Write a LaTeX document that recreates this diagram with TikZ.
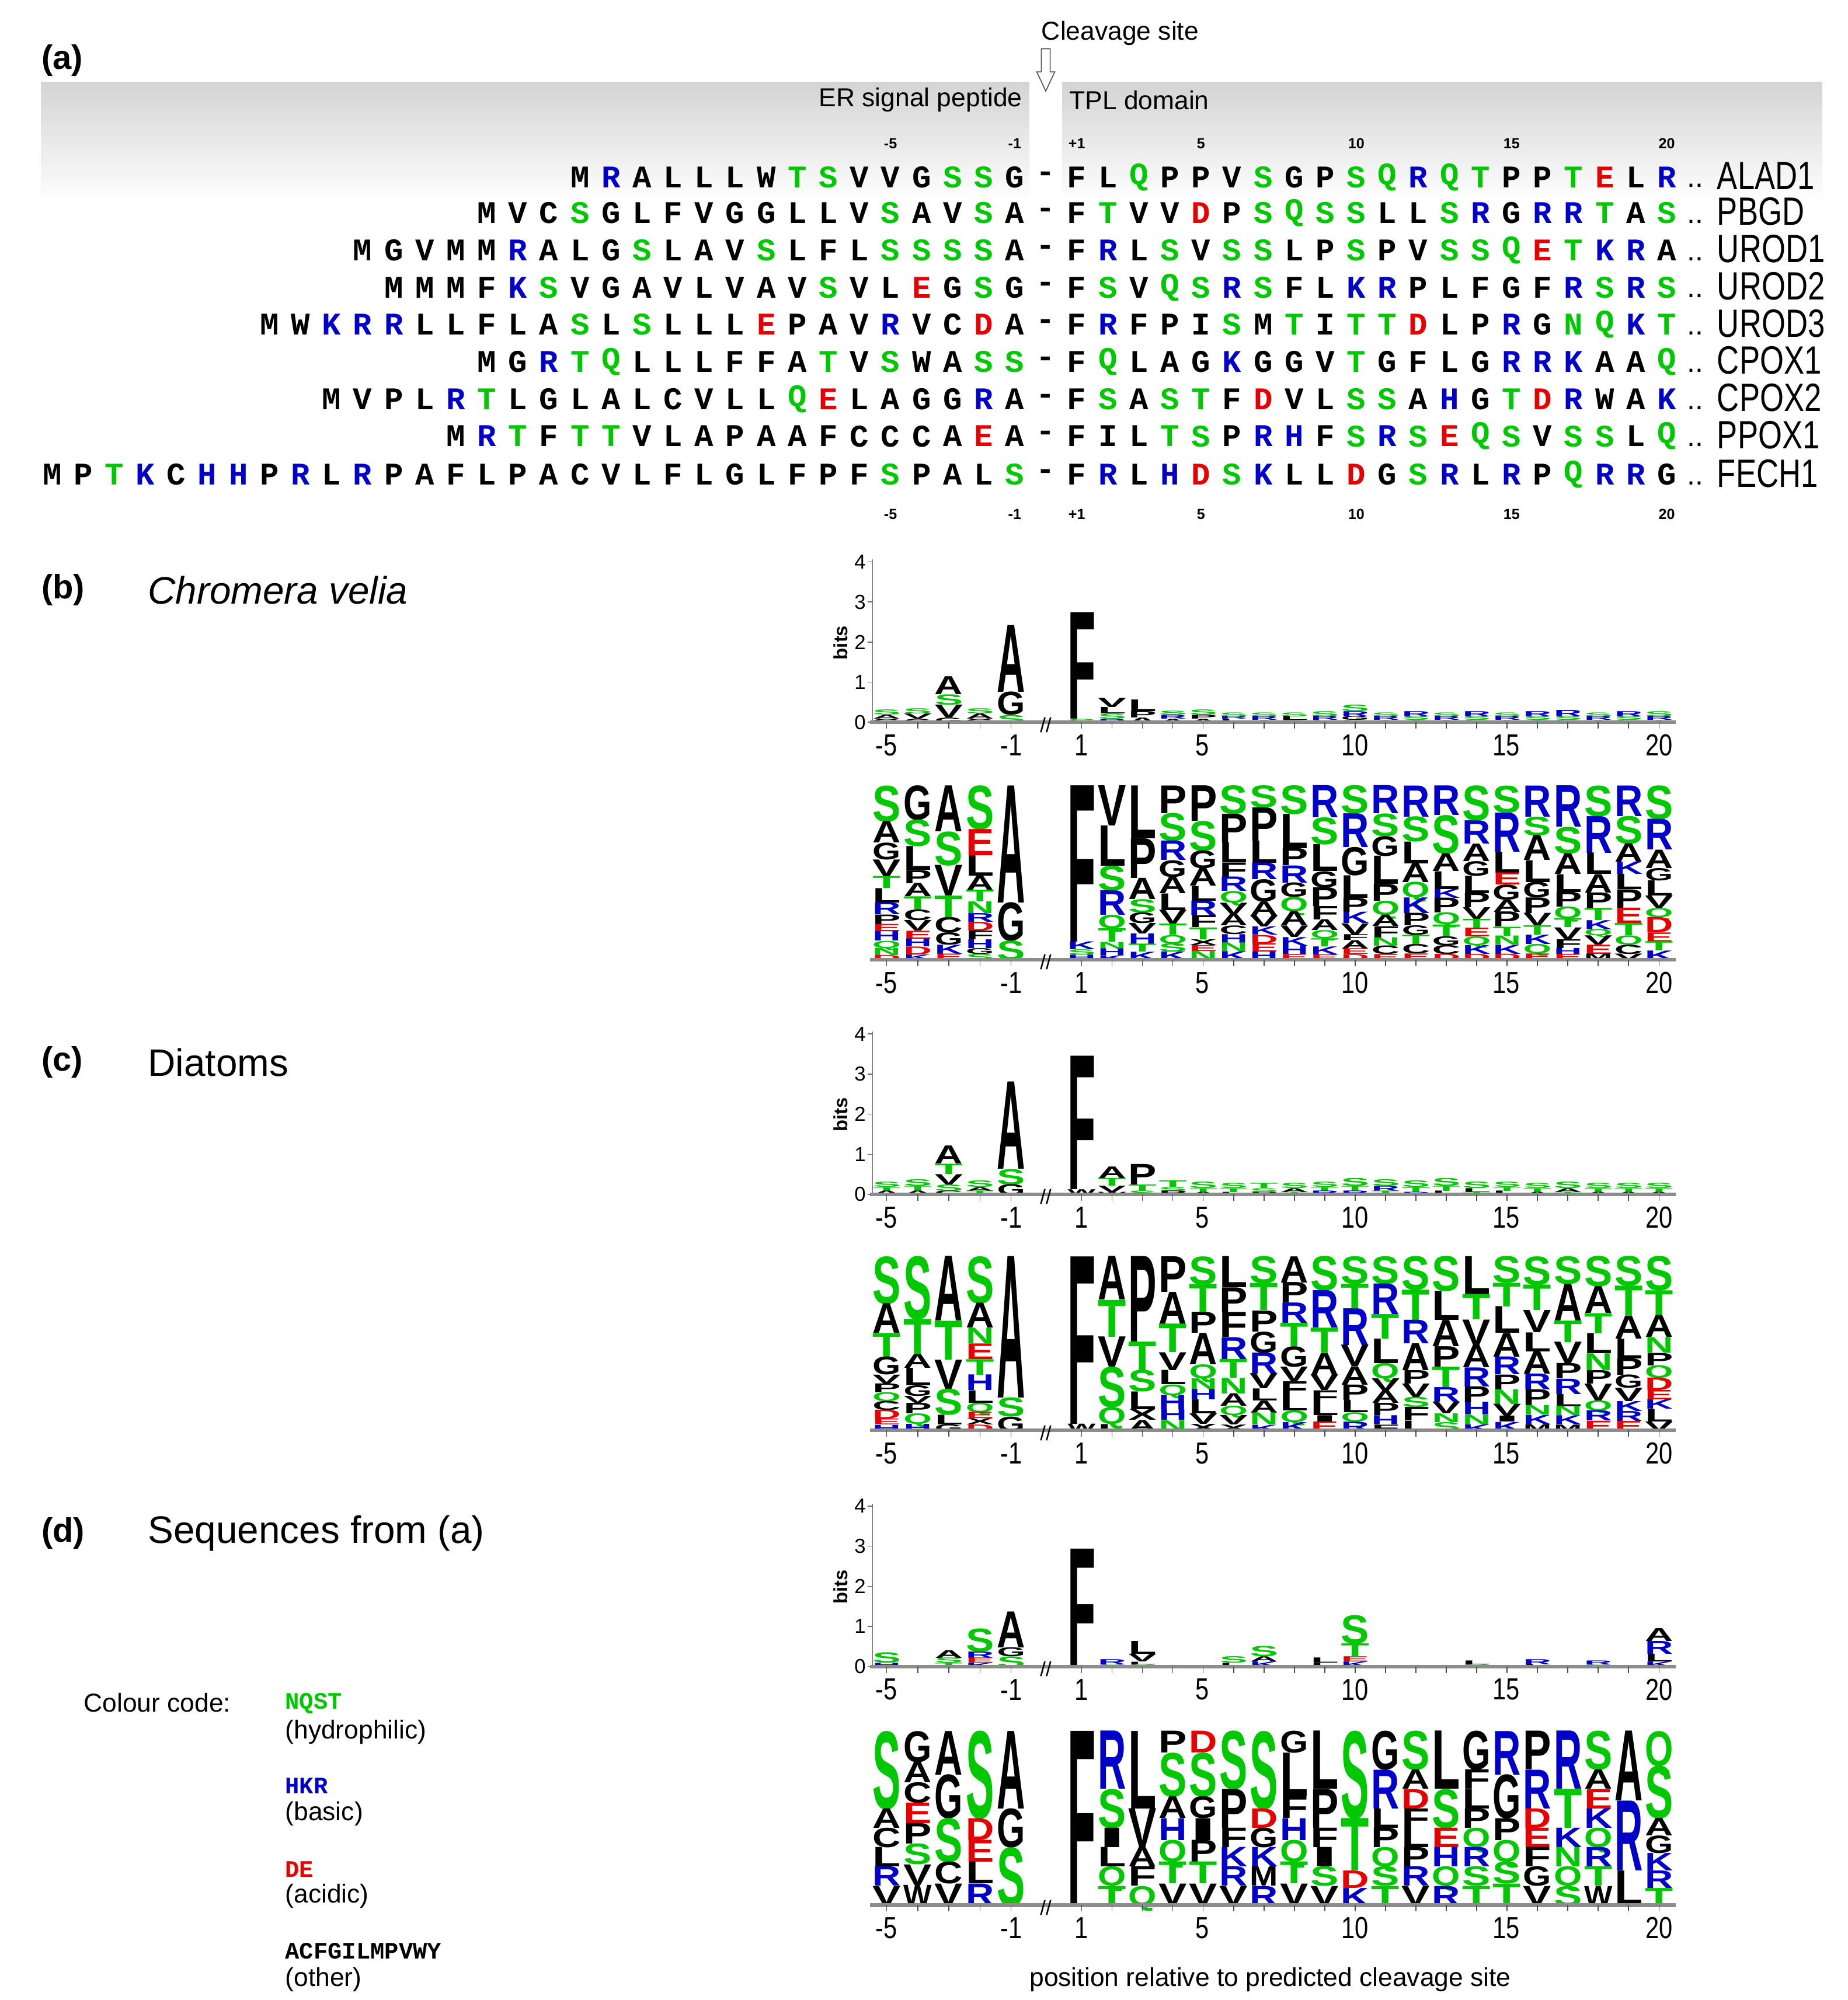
\documentclass[tikz,border=0pt]{standalone}
\usepackage{fontspec}
\setmainfont{Liberation Sans}
\newfontfamily\seqfont{Liberation Mono}
\newfontfamily\logofont{Liberation Sans}
\usetikzlibrary{calc}
\definecolor{hydro}{RGB}{0,200,0}
\definecolor{basic}{RGB}{0,0,200}
\definecolor{acidic}{RGB}{230,0,0}
\definecolor{other}{RGB}{0,0,0}
\tikzset{
	aa/N/.style={text=hydro},aa/Q/.style={text=hydro},aa/S/.style={text=hydro},aa/T/.style={text=hydro},%
	aa/H/.style={text=basic},aa/K/.style={text=basic},aa/R/.style={text=basic},%
	aa/D/.style={text=acidic},aa/E/.style={text=acidic},%
	aa/A/.style={text=other},aa/C/.style={text=other},aa/F/.style={text=other},aa/G/.style={text=other},%
	aa/I/.style={text=other},aa/L/.style={text=other},aa/M/.style={text=other},aa/P/.style={text=other},%
	aa/V/.style={text=other},aa/W/.style={text=other},aa/Y/.style={text=other},aa/X/.style={text=other},%
	seqletter/.style={font=\seqfont\bfseries\fontsize{14}{14}\selectfont,inner sep=0pt},%
	seqname/.style={font=\fontsize{17.5}{17.5}\selectfont,inner sep=0pt,anchor=west,xscale=0.78},%
	seqdots/.style={font=\fontsize{13}{13}\selectfont,inner sep=0pt,anchor=base},%
	posnum/.style={font=\bfseries\fontsize{6.5}{6.5}\selectfont,inner sep=0pt},%
	logoletter/.style={inner sep=0pt,anchor=north},%
	logoaxis/.style={black!45,line width=1.6pt},%
	logotick/.style={black!70,thin},%
	axisnum/.style={font=\fontsize{13.5}{13.5}\selectfont,inner sep=0pt,xscale=0.8},%
	bitsnum/.style={font=\fontsize{9}{9}\selectfont,inner sep=0pt,anchor=east},%
	panel/.style={font=\bfseries\fontsize{15}{15}\selectfont,inner sep=0pt,anchor=west},%
	title/.style={font=\fontsize{17}{17}\selectfont,inner sep=0pt,anchor=west},%
	label/.style={font=\fontsize{11.5}{11.5}\selectfont,inner sep=0pt},%
	codekey/.style={font=\seqfont\bfseries\fontsize{10.5}{10.5}\selectfont,inner sep=0pt,anchor=west},%
	band/.style={top color=black!17,bottom color=white},%
}
\def\seqstep{24.2}
\def\cleave{815}
\newcount\aacnt
\newcommand\seqchar[3]{\node[seqletter,aa/#1] at (#2,#3) {#1};}
\newcommand\logoletter[4]{%
	\pgfmathsetlengthmacro\hlen{#4*0.02cm}%
	\node[logoletter,aa/#1] at (#2,#3) {\resizebox{0.44cm}{\hlen}{\logofont\bfseries #1}};}
\makeatletter
\newcommand\seqrow[4]{% y, before cleavage, after cleavage, name
	\aacnt=0 \@tfor\c:=#2\do{\advance\aacnt by -1}%
	\@tfor\c:=#2\do{\expandafter\seqchar\expandafter{\c}{\cleave+\the\aacnt*\seqstep}{#1}\advance\aacnt by 1}%
	\node[seqletter] at (\cleave,#1) {-};%
	\aacnt=1 \@tfor\c:=#3\do{\expandafter\seqchar\expandafter{\c}{\cleave+\the\aacnt*\seqstep}{#1}\advance\aacnt by 1}%
	\node[seqdots] at (1321,#1-8) {..};%
	\node[seqname] at (1338,#1+1) {#4};}
\makeatother
% #1 baseline, #2 column height (0 = heights as given), #3 columns, top to bottom
\newcommand\logo[3]{%
	\foreach \col [count=\i] in {#3}{%
		\pgfmathsetmacro\cx{\i<6 ? 691+(\i-1)*24.25 : 843+(\i-6)*23.68}%
		\gdef\csum{0}%
		\foreach \l/\h in \col {\pgfmathsetmacro\t{\csum+\h}\xdef\csum{\t}}%
		\pgfmathsetmacro\sc{#2>0 ? #2/\csum : 1}%
		\pgfmathsetmacro\t{#1+\csum*\sc}\xdef\ytop{\t}%
		\foreach \l/\h in \col {%
			\pgfmathsetmacro\hh{\h*\sc}%
			\expandafter\logoletter\expandafter{\l}{\cx}{\ytop}{\hh}%
			\pgfmathsetmacro\t{\ytop-\hh}\xdef\ytop{\t}}%
	}}
\newcommand\logoaxis[1]{%
	\draw[logoaxis] (678,#1) -- (1306,#1);
	\foreach \i in {1,...,25}{
		\pgfmathsetmacro\cx{\i<6 ? 691+(\i-1)*24.25 : 843+(\i-6)*23.68}
		\draw[logotick] (\cx,#1) -- (\cx,#1-5);}
	\node[font=\fontsize{9}{9}\selectfont,inner sep=0pt] (brk) at (815,#1-2) {//};
	\foreach \n/\x in {-5/691,-1/788,1/843,5/937,10/1056,15/1174,20/1293}
		\node[axisnum] at (\x,#1-18) {\n};}
\newcommand\bitsaxis[1]{%
	\draw[black!60] (680,#1) -- (680,#1+127);
	\foreach \b in {0,...,4}{
		\draw[black!60] (676,#1+\b*31.25) -- (680,#1+\b*31.25);
		\node[bitsnum] at (675,#1+\b*31.25) {\b};}
	\node[font=\bfseries\fontsize{8.5}{8.5}\selectfont,rotate=90,inner sep=0pt] at (655,#1+62) {bits};}

\begin{document}
\begin{tikzpicture}[x=0.02cm,y=0.02cm]
	\useasboundingbox (0,0) rectangle (1440,-1559);
	% panel (a)
	\shade[band] (32,-64) rectangle (802,-158);
	\shade[band] (828,-64) rectangle (1420,-158);
	\node[panel] (pa) at (32,-47) {(a)};
	\node[label] (cleave) at (873,-26) {Cleavage site};
	\draw[black!70,fill=white] (811.5,-38) -- (818.5,-38) -- (818.5,-56) -- (822,-56) -- (815,-71) -- (808,-56) -- (811.5,-56) -- cycle;
	\node[label,anchor=east] (er) at (797,-78) {ER signal peptide};
	\node[label,anchor=west] (tpl) at (833,-78) {TPL domain};
	\foreach \y in {-112,-401}
		\foreach \n/\j in {-5/-5,-1/-1,+1/1,5/5,10/10,15/15,20/20}
			\node[posnum] at (\cleave+\j*\seqstep,\y) {\n};
	\seqrow{-138}{MRALLLWTSVVGSSG}{FLQPPVSGPSQRQTPPTELR}{ALAD1}
	\seqrow{-166}{MVCSGLFVGGLLVSAVSA}{FTVVDPSQSSLLSRGRRTAS}{PBGD}
	\seqrow{-195}{MGVMMRALGSLAVSLFLSSSSA}{FRLSVSSLPSPVSSQETKRA}{UROD1}
	\seqrow{-224}{MMMFKSVGAVLVAVSVLEGSG}{FSVQSRSFLKRPLFGFRSRS}{UROD2}
	\seqrow{-253}{MWKRRLLFLASLSLLLEPAVRVCDA}{FRFPISMTITTDLPRGNQKT}{UROD3}
	\seqrow{-282}{MGRTQLLLFFATVSWASS}{FQLAGKGGVTGFLGRRKAAQ}{CPOX1}
	\seqrow{-311}{MVPLRTLGLALCVLLQELAGGRA}{FSASTFDVLSSAHGTDRWAK}{CPOX2}
	\seqrow{-340}{MRTFTTVLAPAAFCCCAEA}{FILTSPRHFSRSEQSVSSLQ}{PPOX1}
	\seqrow{-370}{MPTKCHHPRLRPAFLPACVLFLGLFPFSPALS}{FRLHDSKLLDGSRLRPQRRG}{FECH1}
	% panel (b)
	\node[panel] (pb) at (32,-460) {(b)};
	\node[title,font=\itshape\fontsize{17}{17}\selectfont] (tb) at (115,-460) {Chromera velia};
	\bitsaxis{-563}
	\logo{-563}{0}{{S/4,A/3,G/3},{S/4,V/4,G/3},{A/14,S/8,V/10,G/4},{S/4,A/4,G/3},{A/52,G/18,S/6},
		{F/83,S/3},{V/7,L/5,S/4,R/3},{L/9,P/5,A/4},{S/3,R/3,A/3},{S/4,P/3,A/3},{S/3,R/2,L/3},{S/3,R/3,A/2},
		{S/3,L/3,R/2},{S/4,R/3,L/2},{S/5,R/4,G/3,L/2},{S/3,R/3,A/2},{R/4,S/3,A/2},{S/3,R/3,A/2},{R/4,S/3,L/2},
		{S/3,R/3,A/2},{R/4,S/3,A/2},{R/5,S/3,L/2},{S/3,R/3,A/2},{R/4,S/3,L/2},{S/4,R/3,A/2}}
	\logoaxis{-563}
	\logo{-748}{136}{{S/15,A/9,G/7,V/7,T/5,L/6,R/5,P/4,E/3,H/4,Q/3,N/3,D/2},
		{G/13,S/10,L/9,P/5,A/5,T/5,C/4,V/4,E/3,H/3,D/3,K/2},{A/15,S/11,V/10,T/7,C/5,G/4,K/3,E/2},
		{S/15,E/9,L/7,A/5,T/4,N/4,R/3,D/3,F/3,H/3,G/2,S/2},{A/55,G/18,S/9},
		{F/60,K/3,S/2,H/2},{V/18,L/18,S/11,R/11,Q/6,T/6,N/3,H/3,K/2},{L/20,P/15,A/8,S/5,G/4,V/4,H/4,T/3,K/3},
		{P/10,S/10,R/7,G/6,A/6,L/6,V/5,T/4,Q/3,S/3,K/3},{P/12,S/10,G/6,A/6,L/5,R/5,F/4,T/4,X/2,E/2,N/3},
		{S/10,P/10,L/7,F/5,R/5,Q/4,V/4,A/4,C/3,H/3,N/3,K/3},{S/8,P/12,L/8,R/6,G/8,A/5,V/4,K/3,D/3,E/3,H/3},
		{S/10,L/12,P/6,R/6,G/5,Q/5,A/5,V/4,K/3,H/3,E/2},{R/12,S/10,L/10,G/6,P/7,F/5,A/4,Q/3,T/3,K/3,E/2},
		{S/10,R/12,G/10,L/8,P/5,K/4,V/4,F/2,A/3,E/2,D/2},{R/10,S/8,G/7,L/10,P/6,Q/5,A/4,F/4,N/3,C/3,E/2},
		{R/10,S/8,L/7,A/6,Q/5,K/5,P/4,G/3,T/3,C/3,E/2},{R/10,S/13,A/6,L/6,K/3,P/5,Q/4,T/4,G/3,C/3,D/2},
		{S/12,R/8,A/6,G/5,L/6,P/5,V/4,T/3,E/3,Q/3,K/3,D/2},{S/9,R/13,L/7,E/4,G/5,A/4,P/5,T/3,N/3,K/3,D/2},
		{R/10,S/6,A/8,L/7,G/5,P/5,V/4,T/3,K/3,Q/3,E/2},{R/14,S/9,A/7,L/6,P/5,Q/4,T/3,V/4,F/3,H/2,E/2},
		{S/10,R/12,L/7,A/6,P/5,T/4,K/3,Q/2,V/3,E/3,M/2},{R/10,S/9,A/6,K/4,L/5,P/6,E/5,T/4,Q/3,C/3,V/2},
		{S/11,R/10,A/6,G/4,L/5,V/4,Q/3,D/5,E/3,T/3,K/3}}
	\logoaxis{-748}
	% panel (c)
	\node[panel] (pc) at (32,-828) {(c)};
	\node[title] (tc) at (115,-828) {Diatoms};
	\bitsaxis{-931}
	\logo{-931}{0}{{S/4,T/3,A/3},{S/5,T/4,A/3},{A/14,T/8,V/8,S/5,C/3},{S/5,A/3,T/3},{A/68,S/12,G/8},
		{F/104,W/4},{A/9,T/6,V/5,W/2},{P/16,T/5,S/3},{T/5,S/3,P/3},{S/5,T/3,A/2},{S/4,T/3,L/2},{T/4,S/3,P/2},
		{S/4,A/3,T/2},{S/4,T/3,R/3},{S/6,T/4,R/3},{S/5,R/4,T/3},{S/5,T/4,R/2},{S/6,T/4,L/3},{S/5,L/3,T/2},
		{S/4,T/3,L/3},{S/4,T/3,A/2},{S/5,A/3,T/2},{S/4,T/3,A/2},{S/4,T/3,A/2},{S/4,T/3,A/2}}
	\logoaxis{-931}
	\logo{-1115}{136}{{S/16,A/10,T/8,G/6,V/3,P/3,Q/3,C/3,D/3,E/2,H/2},
		{S/18,T/10,A/4,L/5,G/3,V/2,P/3,Q/3,H/2},{A/20,T/12,V/9,S/8,L/3,G/2},
		{S/15,A/8,N/5,E/5,T/5,H/5,L/4,Q/3,E/2,X/2,D/2},{A/60,S/8,G/6},
		{F/70,W/3},{A/13,T/11,V/9,S/12,Q/5,L/2},{P/24,T/8,S/6,L/5,X/3,A/3},
		{P/10,A/9,T/8,V/5,L/4,Q/3,H/4,H/3,N/3},{S/8,T/8,P/6,A/9,Q/4,N/3,H/3,L/4,V/3,X/2},
		{L/10,P/8,F/8,R/7,T/6,N/5,A/4,Q/3,V/3,X/2},{S/9,T/9,P/7,G/7,R/7,V/5,L/4,A/4,N/4,K/2},
		{A/9,P/7,R/7,T/8,G/7,V/5,F/5,L/5,Q/4,K/3},{S/11,R/12,T/8,A/7,V/5,F/4,L/4,I/2,E/3},
		{S/9,T/8,R/12,V/7,A/6,P/5,L/4,Q/3,R/3},{S/9,R/10,T/8,L/8,Q/5,V/4,A/4,P/4,H/3,F/2},
		{S/10,T/9,R/7,A/8,P/4,V/4,S/3,F/4,L/3},{S/12,L/10,A/9,P/7,T/7,R/5,V/4,N/3,S/3},
		{L/12,T/8,V/8,A/7,R/6,P/5,H/4,N/3,K/2},{S/9,T/8,L/9,A/8,R/6,P/5,N/5,V/4,I/2,K/3},
		{S/9,T/8,V/7,L/6,A/7,R/5,P/5,N/3,K/3,M/2},{S/9,A/12,T/7,V/7,P/5,R/5,L/4,N/3,K/3,M/2},
		{S/9,A/8,T/6,L/6,N/5,P/4,V/5,Q/3,R/3,E/3},{S/9,T/9,A/7,L/6,P/5,G/4,V/4,K/3,R/3,E/3},
		{S/11,T/8,A/7,N/5,P/4,Q/4,D/4,E/3,K/3,L/4,V/3}}
	\logoaxis{-1115}
	% panel (d)
	\node[panel] (pd) at (32,-1195) {(d)};
	\node[title] (td) at (115,-1195) {Sequences from (a)};
	\bitsaxis{-1299}
	\logo{-1299}{0}{{S/8,H/3},{S/0.6},{A/6,S/4,T/3},{S/18,R/5,E/4,K/3},{A/28,G/7,S/8},
		{F/92},{R/4,S/2},{L/10,V/6,L/2,S/2},{S/0.6},{S/0.6},{S/5,L/3},{S/8,A/4,K/4},
		{S/0.6},{L/4,L/3},{S/22,T/10,E/4,K/4},{S/0.6},{S/0.6},{S/0.6},{L/3,S/2},
		{S/0.6},{R/4,L/2},{S/0.6},{R/3,S/2},{S/0.6},{A/10,R/10,L/6,K/4}}
	\logoaxis{-1299}
	\logo{-1485}{136}{{S/4,A/1,C/1,L/1,R/1,V/1},{G/1.5,A/1,C/1,E/1,P/1,S/1,V/1,W/1},{A/2,G/2,S/2,C/1,V/1},
		{S/4,D/1,E/1,L/1,R/1},{A/4,G/2,S/3},
		{F/9},{R/3,S/2,I/1,L/1,Q/1,T/1},{L/4,V/2,A/1,F/1,Q/1},{P/1,S/2,A/1,H/1,Q/1,T/1,V/1},
		{D/1,S/2,G/1,I/1,P/1,T/1,V/1},{S/3,P/2,F/1,K/1,R/1,V/1},{S/4,D/1,G/1,K/1,M/1,R/1},
		{G/1,L/2,F/1,H/1,Q/1,T/1,V/1},{L/3,P/2,F/1,I/1,S/1,V/1},{S/5,T/3,D/1,K/1},
		{G/2,R/2,L/1,P/1,Q/1,S/1,T/1},{S/2,A/1,D/1,F/1,L/1,P/1,R/1,V/1},{L/3,S/2,E/1,H/1,Q/1,R/1},
		{G/2,F/1,L/1,P/1,Q/1,R/1,S/1,T/1},{R/2,G/2,P/1,Q/1,S/1,T/1},{P/2,R/2,D/1,E/1,F/1,G/1,V/1},
		{R/3,T/2,K/1,N/1,Q/1,S/1},{S/2,A/1,E/1,K/1,Q/1,R/1,T/1,W/1},{A/4,R/4,L/2},{Q/2,S/3,A/1,G/1,K/1,R/1,T/1}}
	\logoaxis{-1485}
	\node[label] (xlab) at (990,-1543) {position relative to predicted cleavage site};
	% colour code
	\node[label,anchor=west] (cc) at (65,-1327) {Colour code:};
	\node[codekey,text=hydro] (k1) at (222,-1328) {NQST};
	\node[label,anchor=west] (d1) at (222,-1350) {(hydrophilic)};
	\node[codekey,text=basic] (k2) at (222,-1392) {HKR};
	\node[label,anchor=west] (d2) at (222,-1414) {(basic)};
	\node[codekey,text=acidic] (k3) at (222,-1457) {DE};
	\node[label,anchor=west] (d3) at (222,-1478) {(acidic)};
	\node[codekey] (k4) at (222,-1521) {ACFGILMPVWY};
	\node[label,anchor=west] (d4) at (222,-1543) {(other)};
\end{tikzpicture}
\end{document}
